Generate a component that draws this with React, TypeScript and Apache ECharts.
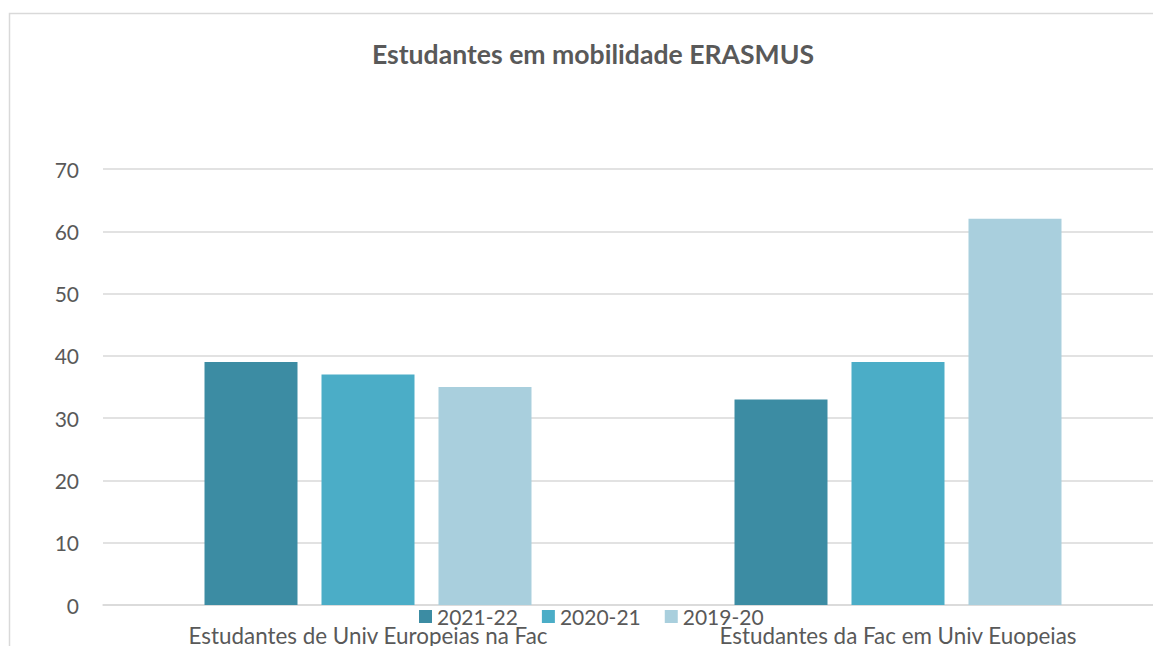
import React, { useEffect, useRef } from "react";
import * as echarts from "echarts";

const categories = [
  "Estudantes de Univ Europeias na Fac",
  "Estudantes da Fac em Univ Euopeias",
];
const seriesNames = ["2021-22", "2020-21", "2019-20"];
const values2021_22 = [39, 33];
const values2020_21 = [37, 39];
const values2019_20 = [35, 62];
const colors = ["#3C8CA3", "#4BADC7", "#A9CFDD"];
const yTicks = { min: 0, max: 70, interval: 10 };

export default function App() {
  const ref = useRef<HTMLDivElement>(null);
  useEffect(() => {
    if (!ref.current) return;
    const chart = echarts.init(ref.current, null, { renderer: "svg" });
    const font = "Lato, 'Open Sans', sans-serif";
    const textColor = "#595959";
    const data = [values2021_22, values2020_21, values2019_20];
    chart.setOption({
      animation: false,
      textStyle: { fontFamily: font },
      title: {
        text: "Estudantes em mobilidade ERASMUS",
        left: 588,
        textAlign: "center",
        top: 34,
        textStyle: {
          fontFamily: font,
          fontSize: 26.6,
          fontWeight: "bold",
          color: textColor,
          lineHeight: 30,
        },
      },
      graphic: [
        {
          type: "rect",
          shape: { x: 9.5, y: 13.5, width: 1250, height: 700 },
          style: { fill: "none", stroke: "#d9d9d9", lineWidth: 1.5 },
          silent: true,
          z: -1,
        },
      ],
      legend: {
        data: seriesNames,
        left: 419,
        top: 606,
        itemWidth: 13,
        itemHeight: 13,
        itemGap: 24,
        icon: "rect",
        textStyle: {
          fontFamily: font,
          fontSize: 21,
          color: textColor,
        },
        padding: 0,
      },
      grid: { left: 103, right: 17, top: 169, bottom: 38.5, containLabel: false },
      xAxis: {
        type: "category",
        data: categories,
        axisLine: { show: true, lineStyle: { color: "#d9d9d9", width: 1.5 } },
        axisTick: { show: false },
        axisLabel: {
          fontFamily: font,
          fontSize: 22.4,
          color: textColor,
          margin: 19,
          lineHeight: 22,
        },
      },
      yAxis: {
        type: "value",
        min: yTicks.min,
        max: yTicks.max,
        interval: yTicks.interval,
        axisLine: { show: false },
        axisTick: { show: false },
        axisLabel: { fontFamily: font, fontSize: 21, color: textColor, margin: 24 },
        splitLine: { lineStyle: { color: "#d9d9d9", width: 1.5 } },
      },
      series: seriesNames.map((name, i) => ({
        name,
        type: "bar",
        data: data[i],
        barWidth: 93,
        barGap: "25.8%",
        itemStyle: { color: colors[i] },
      })),
    });
    return () => chart.dispose();
  }, []);
  return (
    <div
      style={{
        position: "fixed",
        left: 0,
        top: 0,
        width: 1153,
        height: 646,
        overflow: "hidden",
        background: "#fff",
      }}
    >
      <div ref={ref} style={{ width: 1180, height: 646 }} />
    </div>
  );
}
